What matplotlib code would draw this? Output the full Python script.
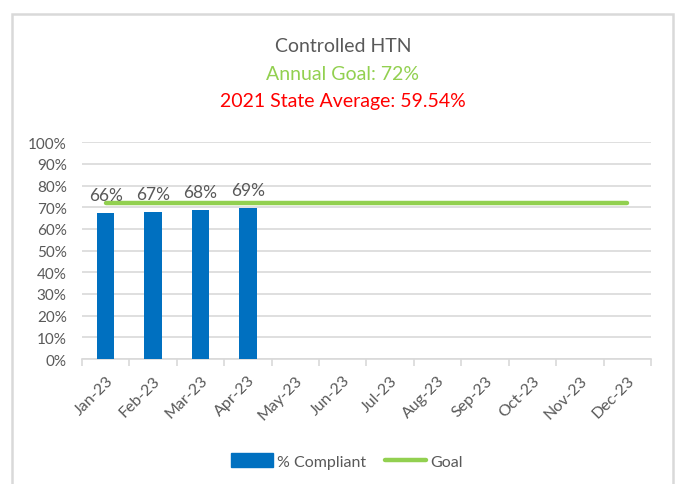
import matplotlib
matplotlib.use("Agg")
import matplotlib.pyplot as plt
from matplotlib.patches import Rectangle, Patch
from matplotlib.lines import Line2D
import numpy as np

months = ["Jan-23", "Feb-23", "Mar-23", "Apr-23", "May-23", "Jun-23",
          "Jul-23", "Aug-23", "Sep-23", "Oct-23", "Nov-23", "Dec-23"]
compliant = [0.672, 0.677, 0.686, 0.695]
compliant_labels = ["66%", "67%", "68%", "69%"]
goal = [0.72] * 12
yticks = [0.0, 0.1, 0.2, 0.3, 0.4, 0.5, 0.6, 0.7, 0.8, 0.9, 1.0]

FONT = ["Lato", "DejaVu Sans"]
plt.rcParams["font.family"] = FONT

GRAY_TXT = "#595959"
GRID = "#D9D9D9"
BLUE = "#0070C0"
GREEN = "#92D050"

fig = plt.figure(figsize=(6.76, 4.85), dpi=100)
fig.patch.set_facecolor("white")

# chart border
fig.patches.append(Rectangle((12 / 676, -0.05), (673 - 12) / 676, 1 - 15 / 485 + 0.05,
                             transform=fig.transFigure, fill=False,
                             edgecolor=GRID, linewidth=1.8, zorder=0))

ax = fig.add_axes([82 / 676, 1 - 360 / 485, (651 - 82) / 676, (360 - 143.3) / 485])
x = np.arange(len(months))
ax.set_xlim(-0.5, len(months) - 0.5)
ax.set_ylim(0, 1.0)

ax.bar(x[:len(compliant)], compliant, width=0.365, color=BLUE, zorder=3)
ax.plot(x, goal, color=GREEN, linewidth=3.2, solid_capstyle="round", zorder=4)

for xi, v, lab in zip(x, compliant, compliant_labels):
    ax.annotate(lab, (xi, v), xytext=(0, 13), textcoords="offset points",
                ha="center", va="center", fontsize=12.5, color=GRAY_TXT, zorder=5)

ax.set_yticks(yticks)
ax.set_yticklabels([f"{int(round(t * 100))}%" for t in yticks])
ax.yaxis.grid(True, color=GRID, linewidth=1.2, zorder=0)
ax.set_axisbelow(True)
for s in ["top", "right", "left"]:
    ax.spines[s].set_visible(False)
ax.spines["bottom"].set_color(GRID)
ax.spines["bottom"].set_linewidth(1.2)
ax.tick_params(axis="y", length=0, labelsize=11, labelcolor=GRAY_TXT, pad=11)

ax.set_xticks(x)
ax.set_xticklabels(months, rotation=45, ha="right", rotation_mode="anchor")
ax.tick_params(axis="x", which="major", length=0, labelsize=11.5,
               labelcolor=GRAY_TXT, pad=10)
ax.set_xticks(np.arange(-0.5, len(months) + 0.5, 1.0), minor=True)
ax.tick_params(axis="x", which="minor", length=5, color=GRID, width=1.2)

# titles
fig.text(343 / 676, 1 - 47 / 485, "Controlled HTN", ha="center", va="center",
         fontsize=14, color=GRAY_TXT)
fig.text(343 / 676, 1 - 74 / 485, "Annual Goal: 72%", ha="center", va="center",
         fontsize=14, color=GREEN)
fig.text(343 / 676, 1 - 102 / 485, "2021 State Average: 59.54%", ha="center",
         va="center", fontsize=14, color="#FF0000")

handles = [Patch(facecolor=BLUE, edgecolor=BLUE),
           Line2D([0], [0], color=GREEN, linewidth=3.2, solid_capstyle="round")]
leg = fig.legend(handles, ["% Compliant", "Goal"], loc="center",
                 bbox_to_anchor=(347 / 676, 1 - 462 / 485), ncol=2, frameon=False,
                 fontsize=11.5, handlelength=2.6, handleheight=1.0,
                 columnspacing=1.2, handletextpad=0.25)
for t in leg.get_texts():
    t.set_color(GRAY_TXT)

fig.savefig("out.png", dpi=100, facecolor="white")
